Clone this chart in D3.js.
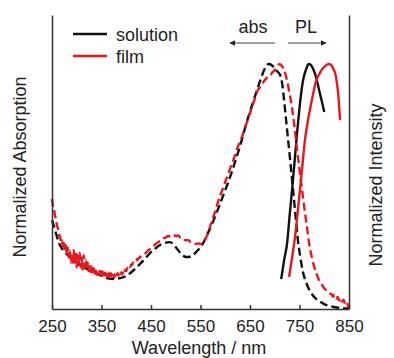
<!DOCTYPE html>
<html lang="en">
	<head>
		<meta charset="utf-8">
		<title>Absorption and PL spectra</title>
		<script type="text/javascript" src="https://cdn.jsdelivr.net/npm/d3@7"></script>
		<style type="text/css">
			body { margin: 0; background: #fff; }
			text { font-family: "Liberation Sans", Arial, sans-serif; fill: #222; }
			.axis path, .axis line { stroke: #333; stroke-width: 1.5; }
			.axis text { font-size: 17px; fill: #222; }
		</style>
	</head>
	<body>
		<script type="text/javascript">

			// Tick labels (nm)
			var xTicks = [250, 350, 450, 550, 650, 750, 850];

			// Solution absorption (black dashed)
			var solAbsNm  = [250, 255, 260, 266, 276, 286, 296, 306, 316, 326, 336, 346, 356, 366, 376, 388, 400, 413, 426, 440,
			                 450, 460, 470, 478, 488, 495, 501, 510, 521, 530, 541, 553, 565, 576, 587, 598, 610, 621, 632, 643,
			                 653, 662, 671, 681, 688, 694, 699, 705, 711, 715, 719, 723, 727, 732, 737, 742, 746, 751, 757, 765,
			                 778, 790, 800, 820, 835, 850];
			var solAbsVal = [0.363, 0.33, 0.295, 0.261, 0.232, 0.212, 0.195, 0.18, 0.168, 0.159, 0.148, 0.139, 0.13, 0.124, 0.122, 0.126, 0.135, 0.155, 0.18, 0.21,
			                 0.232, 0.249, 0.263, 0.27, 0.273, 0.265, 0.25, 0.228, 0.212, 0.214, 0.232, 0.261, 0.31, 0.36, 0.416, 0.475, 0.54, 0.608, 0.68, 0.76,
			                 0.824, 0.88, 0.935, 0.985, 1.0, 0.995, 0.985, 0.97, 0.955, 0.92, 0.85, 0.77, 0.69, 0.59, 0.486, 0.38, 0.294, 0.22, 0.151, 0.1,
			                 0.053, 0.032, 0.02, 0.008, 0.004, 0.002];

			// Film absorption (red dashed, noisy at short wavelength)
			var filmAbsNm  = [250, 252, 254, 256, 258, 260, 262, 264, 266, 268, 270, 272, 274, 276, 278, 280, 282, 284, 286, 288,
			                  290, 292, 294, 296, 298, 300, 302, 304, 306, 308, 310, 312, 314, 316, 318, 320, 322, 324, 326, 328,
			                  330, 332, 334, 336, 338, 340, 342, 344, 346, 348, 350, 352, 354, 356, 358, 360, 362, 364, 366, 368,
			                  370, 372, 374, 376, 378, 380, 382, 384, 386, 388, 390, 392, 394, 396, 398, 400, 402, 404, 406, 408,
			                  410, 412, 414, 416, 418, 420, 422, 424, 426, 428, 430,
			                  435, 440, 445, 450, 455, 460, 465, 470, 475, 480, 485, 490, 495, 500, 505, 510, 515, 520, 525,
			                  530, 535, 540, 545, 550, 555, 560, 565, 570, 575, 580, 585, 590, 595, 600, 605, 610, 615, 620, 625,
			                  630, 635, 640, 645, 650, 655, 660, 665, 670, 675, 680, 685, 690, 695, 700, 705, 710, 715, 720, 725,
			                  730, 735, 740, 745, 750, 755, 760, 765, 770, 775, 780, 785, 790, 795, 800, 805, 810, 815, 818, 821,
			                  824, 827, 830, 833, 836, 839, 842, 845, 848, 850];
			var filmAbsVal = [0.45, 0.42, 0.41, 0.38, 0.37, 0.34, 0.33, 0.3, 0.3, 0.27, 0.28, 0.25, 0.27, 0.24, 0.26, 0.22, 0.25, 0.21, 0.24, 0.19,
			                  0.23, 0.18, 0.24, 0.19, 0.23, 0.17, 0.22, 0.18, 0.23, 0.17, 0.21, 0.16, 0.22, 0.17, 0.2, 0.16, 0.19, 0.155, 0.185, 0.15,
			                  0.175, 0.15, 0.17, 0.145, 0.165, 0.14, 0.16, 0.14, 0.155, 0.135, 0.155, 0.13, 0.15, 0.13, 0.148, 0.135, 0.15, 0.13, 0.148, 0.128,
			                  0.145, 0.13, 0.145, 0.128, 0.145, 0.132, 0.146, 0.136, 0.145, 0.135, 0.15, 0.14, 0.155, 0.148, 0.16, 0.155, 0.168, 0.163, 0.175, 0.172,
			                  0.182, 0.18, 0.19, 0.188, 0.197, 0.196, 0.204, 0.203, 0.21, 0.21, 0.217,
			                  0.222, 0.23, 0.24, 0.248, 0.258, 0.266, 0.274, 0.28, 0.288, 0.292, 0.298, 0.296, 0.303, 0.298, 0.3, 0.29, 0.288, 0.28, 0.282,
			                  0.273, 0.272, 0.266, 0.268, 0.265, 0.268, 0.285, 0.31, 0.34, 0.37, 0.4, 0.435, 0.465, 0.49, 0.52, 0.545, 0.575, 0.6, 0.63, 0.66,
			                  0.685, 0.71, 0.74, 0.77, 0.8, 0.83, 0.86, 0.89, 0.905, 0.92, 0.935, 0.945, 0.95, 0.965, 0.975, 0.99, 1.0, 0.99, 0.97, 0.93,
			                  0.88, 0.82, 0.74, 0.65, 0.57, 0.49, 0.41, 0.335, 0.26, 0.21, 0.17, 0.14, 0.115, 0.1, 0.085, 0.075, 0.065, 0.06, 0.05, 0.058,
			                  0.042, 0.05, 0.035, 0.045, 0.03, 0.038, 0.022, 0.03, 0.012, 0.005];

			// Solution PL (black solid)
			var solPlNm  = [713, 719, 725, 730, 735, 740, 745, 750, 755, 759, 763, 766, 769, 772, 775, 778, 781, 786, 791, 796, 800];
			var solPlVal = [0.122, 0.2, 0.269, 0.38, 0.486, 0.6, 0.718, 0.82, 0.906, 0.95, 0.976, 0.993, 1.0, 0.998, 0.99, 0.978, 0.963, 0.925, 0.882, 0.84, 0.804];

			// Film PL (red solid)
			var filmPlNm  = [729, 735, 741, 746, 751, 756, 761, 768, 775, 783, 791, 796, 801, 806, 810, 813, 816, 819, 822, 825, 828, 830, 832];
			var filmPlVal = [0.131, 0.21, 0.294, 0.39, 0.486, 0.59, 0.69, 0.78, 0.853, 0.927, 0.963, 0.98, 0.99, 0.998, 1.0, 0.998, 0.99, 0.978, 0.963, 0.93, 0.882, 0.83, 0.771];

			// Size and plot box (names chosen so they don't clash with window.top etc.)
			var w = 394;
			var h = 358;
			var padL = 52, padR = 349, padT = 15, padB = 309;

			var black = "#111";
			var red = "#e5181e";

			// Scales
			var xScale = d3.scaleLinear()
							.domain([250, 850])
							.range([padL, padR]);

			var yScale = d3.scaleLinear()
							.domain([0, 1.2])
							.range([padB, padT]);

			function zip(xs, ys) {
				return xs.map(function(x, i) { return [x, ys[i]]; });
			}

			var line = d3.line()
						.x(function(d) { return xScale(d[0]); })
						.y(function(d) { return yScale(d[1]); })
						.curve(d3.curveMonotoneX);

			var svg = d3.select("body")
						.append("svg")
						.attr("width", w)
						.attr("height", h);

			// Spectra
			var series = [
				{ data: zip(solAbsNm, solAbsVal), color: black, dash: "8,4" },
				{ data: zip(solPlNm, solPlVal), color: black, dash: null },
				{ data: zip(filmAbsNm, filmAbsVal), color: red, dash: "8,4" },
				{ data: zip(filmPlNm, filmPlVal), color: red, dash: null }
			];

			svg.append("g")
				.selectAll("path")
				.data(series)
				.enter()
				.append("path")
				.attr("d", function(d) { return line(d.data); })
				.attr("fill", "none")
				.attr("stroke", function(d) { return d.color; })
				.attr("stroke-width", 2.4)
				.attr("stroke-dasharray", function(d) { return d.dash; });

			// Axes
			var xAxis = d3.axisBottom(xScale)
							.tickValues(xTicks)
							.tickFormat(d3.format("d"))
							.tickSizeInner(-4)
							.tickSizeOuter(0)
							.tickPadding(11);

			svg.append("g")
				.attr("class", "x axis")
				.attr("transform", "translate(0," + padB + ")")
				.call(xAxis);

			svg.append("g")
				.attr("class", "y axis")
				.attr("transform", "translate(" + padL + ",0)")
				.call(d3.axisLeft(yScale).tickValues([]).tickSizeOuter(0));

			svg.append("g")
				.attr("class", "y axis")
				.attr("transform", "translate(" + padR + ",0)")
				.call(d3.axisRight(yScale).tickValues([]).tickSizeOuter(0));

			// Axis titles
			svg.append("text")
				.attr("x", 199)
				.attr("y", 354)
				.attr("text-anchor", "middle")
				.style("font-size", "18px")
				.text("Wavelength / nm");

			svg.append("text")
				.attr("transform", "translate(26,167) rotate(-90)")
				.attr("text-anchor", "middle")
				.style("font-size", "18px")
				.text("Normalized Absorption");

			svg.append("text")
				.attr("transform", "translate(382,185) rotate(-90)")
				.attr("text-anchor", "middle")
				.style("font-size", "18px")
				.text("Normalized Intensity");

			// Legend
			var legend = [
				{ label: "solution", color: black, y: 34 },
				{ label: "film", color: red, y: 56 }
			];

			var lg = svg.append("g").selectAll("g")
						.data(legend)
						.enter()
						.append("g");

			lg.append("line")
				.attr("x1", 73).attr("x2", 107)
				.attr("y1", function(d) { return d.y; })
				.attr("y2", function(d) { return d.y; })
				.attr("stroke", function(d) { return d.color; })
				.attr("stroke-width", 2.4);

			lg.append("text")
				.attr("x", 116)
				.attr("y", function(d) { return d.y + 6.5; })
				.style("font-size", "18px")
				.text(function(d) { return d.label; });

			// abs / PL arrows
			svg.append("defs").append("marker")
				.attr("id", "head")
				.attr("viewBox", "0 0 10 10")
				.attr("refX", 9).attr("refY", 5)
				.attr("markerWidth", 6).attr("markerHeight", 6)
				.attr("markerUnits", "userSpaceOnUse")
				.attr("orient", "auto")
				.append("path")
				.attr("d", "M0,0L10,5L0,10Z")
				.attr("fill", "#222");

			svg.append("line")
				.attr("x1", 275).attr("x2", 230)
				.attr("y1", 43).attr("y2", 43)
				.attr("stroke", "#444").attr("stroke-width", 1)
				.attr("marker-end", "url(#head)");

			svg.append("line")
				.attr("x1", 288).attr("x2", 326)
				.attr("y1", 43).attr("y2", 43)
				.attr("stroke", "#444").attr("stroke-width", 1)
				.attr("marker-end", "url(#head)");

			svg.append("text")
				.attr("x", 253).attr("y", 33)
				.attr("text-anchor", "middle")
				.style("font-size", "18px")
				.text("abs");

			svg.append("text")
				.attr("x", 306).attr("y", 33)
				.attr("text-anchor", "middle")
				.style("font-size", "18px")
				.text("PL");

		</script>
	</body>
</html>
